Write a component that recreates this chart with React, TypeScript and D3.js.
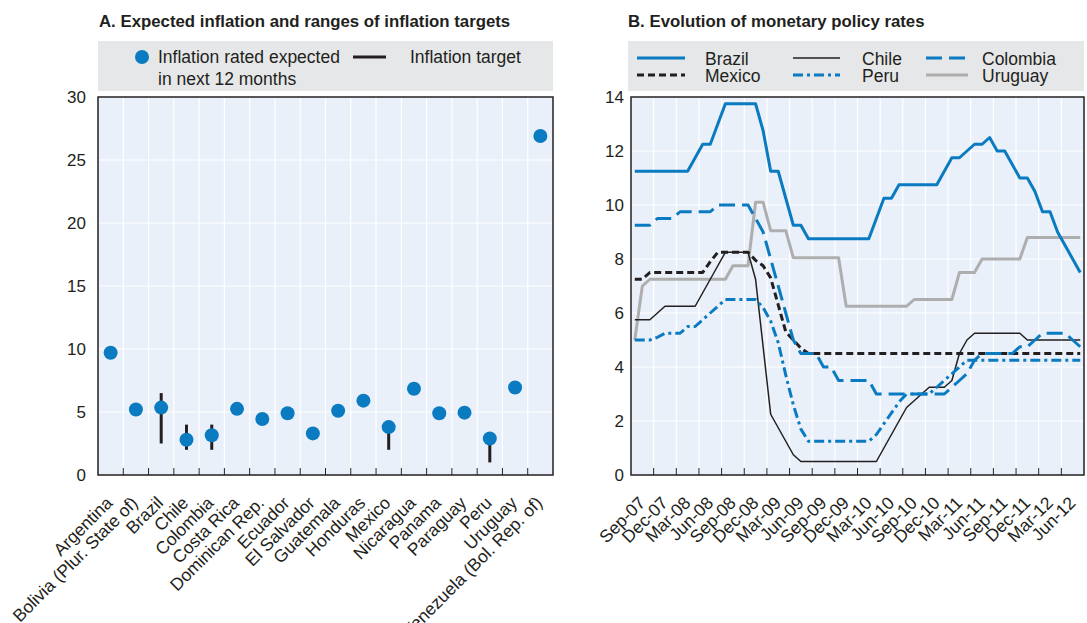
import React from 'react';
import * as d3 from 'd3';

// ---------- Panel A data ----------
const countries = [
  'Argentina', 'Bolivia (Plur. State of)', 'Brazil', 'Chile', 'Colombia', 'Costa Rica',
  'Dominican Rep.', 'Ecuador', 'El Salvador', 'Guatemala', 'Honduras', 'Mexico',
  'Nicaragua', 'Panama', 'Paraguay', 'Peru', 'Uruguay', 'Venezuela (Bol. Rep. of)',
];
const expectedInflation = [9.7, 5.2, 5.35, 2.8, 3.15, 5.25, 4.45, 4.9, 3.3, 5.1, 5.9, 3.8, 6.85, 4.9, 4.95, 2.9, 6.95, 26.9];
const targetLow = [null, null, 2.5, 2, 2, null, null, null, null, null, null, 2, null, null, null, 1, null, null];
const targetHigh = [null, null, 6.5, 4, 4, null, null, null, null, null, null, 4, null, null, null, 3, null, null];
const yTicksA = [0, 5, 10, 15, 20, 25, 30];

// ---------- Panel B data (monthly, Sep-07 .. Aug-12) ----------
const quarterLabels = [
  'Sep-07', 'Dec-07', 'Mar-08', 'Jun-08', 'Sep-08', 'Dec-08', 'Mar-09', 'Jun-09', 'Sep-09', 'Dec-09',
  'Mar-10', 'Jun-10', 'Sep-10', 'Dec-10', 'Mar-11', 'Jun-11', 'Sep-11', 'Dec-11', 'Mar-12', 'Jun-12',
];
const brazil = [
  11.25, 11.25, 11.25, 11.25, 11.25, 11.25, 11.25, 11.25, 11.75, 12.25, 12.25, 13.0,
  13.75, 13.75, 13.75, 13.75, 13.75, 12.75, 11.25, 11.25, 10.25, 9.25, 9.25, 8.75,
  8.75, 8.75, 8.75, 8.75, 8.75, 8.75, 8.75, 8.75, 9.5, 10.25, 10.25, 10.75,
  10.75, 10.75, 10.75, 10.75, 10.75, 11.25, 11.75, 11.75, 12.0, 12.25, 12.25, 12.5,
  12.0, 12.0, 11.5, 11.0, 11.0, 10.5, 9.75, 9.75, 9.0, 8.5, 8.0, 7.5,
];
const chile = [
  5.75, 5.75, 5.75, 6.0, 6.25, 6.25, 6.25, 6.25, 6.25, 6.75, 7.25, 7.75,
  8.25, 8.25, 8.25, 8.25, 7.25, 4.75, 2.25, 1.75, 1.25, 0.75, 0.5, 0.5,
  0.5, 0.5, 0.5, 0.5, 0.5, 0.5, 0.5, 0.5, 0.5, 1.0, 1.5, 2.0,
  2.5, 2.75, 3.0, 3.25, 3.25, 3.25, 3.5, 4.5, 5.0, 5.25, 5.25, 5.25,
  5.25, 5.25, 5.25, 5.25, 5.0, 5.0, 5.0, 5.0, 5.0, 5.0, 5.0, 5.0,
];
const colombia = [
  9.25, 9.25, 9.25, 9.5, 9.5, 9.5, 9.75, 9.75, 9.75, 9.75, 9.75, 10.0,
  10.0, 10.0, 10.0, 10.0, 9.5, 9.0, 8.0, 7.0, 6.0, 5.0, 4.5, 4.5,
  4.5, 4.0, 4.0, 3.5, 3.5, 3.5, 3.5, 3.5, 3.0, 3.0, 3.0, 3.0,
  3.0, 3.0, 3.0, 3.0, 3.0, 3.0, 3.25, 3.5, 3.75, 4.25, 4.5, 4.5,
  4.5, 4.5, 4.5, 4.75, 4.75, 5.0, 5.25, 5.25, 5.25, 5.25, 5.0, 4.75,
];
const mexico = [
  7.25, 7.25, 7.5, 7.5, 7.5, 7.5, 7.5, 7.5, 7.5, 7.5, 7.9, 8.25,
  8.25, 8.25, 8.25, 8.25, 7.95, 7.75, 7.3, 6.3, 5.3, 5.0, 4.7, 4.5,
  4.5, 4.5, 4.5, 4.5, 4.5, 4.5, 4.5, 4.5, 4.5, 4.5, 4.5, 4.5,
  4.5, 4.5, 4.5, 4.5, 4.5, 4.5, 4.5, 4.5, 4.5, 4.5, 4.5, 4.5,
  4.5, 4.5, 4.5, 4.5, 4.5, 4.5, 4.5, 4.5, 4.5, 4.5, 4.5, 4.5,
];
const peru = [
  5.0, 5.0, 5.0, 5.1, 5.25, 5.25, 5.25, 5.5, 5.5, 5.75, 6.0, 6.25,
  6.5, 6.5, 6.5, 6.5, 6.5, 6.2, 5.7, 4.9, 3.7, 2.6, 1.7, 1.25,
  1.25, 1.25, 1.25, 1.25, 1.25, 1.25, 1.25, 1.25, 1.5, 1.9, 2.3, 2.7,
  3.0, 3.0, 3.0, 3.0, 3.25, 3.5, 3.75, 4.0, 4.25, 4.25, 4.25, 4.25,
  4.25, 4.25, 4.25, 4.25, 4.25, 4.25, 4.25, 4.25, 4.25, 4.25, 4.25, 4.25,
];
const uruguay = [
  5.0, 7.0, 7.25, 7.25, 7.25, 7.25, 7.25, 7.25, 7.25, 7.25, 7.25, 7.25,
  7.25, 7.75, 7.75, 7.75, 10.1, 10.1, 9.05, 9.05, 9.05, 8.05, 8.05, 8.05,
  8.05, 8.05, 8.05, 8.05, 6.25, 6.25, 6.25, 6.25, 6.25, 6.25, 6.25, 6.25,
  6.25, 6.5, 6.5, 6.5, 6.5, 6.5, 6.5, 7.5, 7.5, 7.5, 8.0, 8.0,
  8.0, 8.0, 8.0, 8.0, 8.8, 8.8, 8.8, 8.8, 8.8, 8.8, 8.8, 8.8,
];
const yTicksB = [0, 2, 4, 6, 8, 10, 12, 14];

// ---------- styles ----------
const BLUE = '#0b7bc1';
const GREY = '#aeaeae';
const DARK = '#231f20';
const PLOT_BG = '#e9f0f9';
const LEGEND_BG = '#e6e7e8';
const FONT = "'Liberation Sans', Arial, sans-serif";

const seriesB = [
  { name: 'Uruguay', data: uruguay, color: GREY, width: 3, dash: null },
  { name: 'Chile', data: chile, color: DARK, width: 1.5, dash: null },
  { name: 'Mexico', data: mexico, color: DARK, width: 3, dash: '7,4' },
  { name: 'Peru', data: peru, color: BLUE, width: 3, dash: '10,4,3,4' },
  { name: 'Colombia', data: colombia, color: BLUE, width: 3, dash: '16,7' },
  { name: 'Brazil', data: brazil, color: BLUE, width: 3, dash: null },
];
const legendOrderB = ['Brazil', 'Chile', 'Colombia', 'Mexico', 'Peru', 'Uruguay'];

export default function App() {
  const W = 1087;
  const H = 623;

  // Panel A
  const A = { x0: 98, x1: 553, y0: 97, y1: 475 };
  const xA = d3.scaleBand().domain(countries).range([A.x0, A.x1]);
  const yA = d3.scaleLinear().domain([0, 30]).range([A.y1, A.y0]);
  const bw = xA.bandwidth();

  // Panel B
  const B = { x0: 631, x1: 1084, y0: 97, y1: 475 };
  const nMonths = brazil.length;
  const xB = d3.scaleLinear().domain([0, nMonths]).range([B.x0, B.x1]);
  const yB = d3.scaleLinear().domain([0, 14]).range([B.y1, B.y0]);
  const lineGen = d3.line<number>().x((_, i) => xB(i + 0.5)).y((d) => yB(d));
  const quarterBounds = d3.range(0, nMonths + 1, 3);

  const regular = { fontFamily: FONT, fontSize: 17.5, fill: DARK };
  const tickStyle = { fontFamily: FONT, fontSize: 17, fill: DARK };
  const catStyle = { fontFamily: FONT, fontSize: 17.5, fill: DARK };
  const titleStyle = { fontFamily: FONT, fontSize: 16.8, fontWeight: 700, fill: DARK };

  return (
    <svg width={W} height={H} style={{ position: 'absolute', left: 0, top: 0, background: '#fff' }}>
      {/* ===== Panel A ===== */}
      <text x={99} y={27} style={titleStyle}>A. Expected inflation and ranges of inflation targets</text>
      <rect x={98} y={41} width={A.x1 - 98} height={50} fill={LEGEND_BG} />
      <circle cx={142} cy={57} r={7} fill={BLUE} />
      <text x={158} y={63} style={regular}>Inflation rated expected</text>
      <text x={158} y={84.5} style={regular}>in next 12 months</text>
      <line x1={353} x2={386} y1={57} y2={57} stroke={DARK} strokeWidth={3} />
      <text x={410} y={63} style={regular}>Inflation target</text>

      <rect x={A.x0} y={A.y0} width={A.x1 - A.x0} height={A.y1 - A.y0} fill={PLOT_BG} />
      {yTicksA.slice(1, -1).map((t) => (
        <line key={'ga' + t} x1={A.x0} x2={A.x1} y1={yA(t)} y2={yA(t)} stroke="#fff" strokeWidth={1.2} />
      ))}
      {countries.slice(1).map((c) => (
        <line key={'va' + c} x1={xA(c)!} x2={xA(c)!} y1={A.y0} y2={A.y1} stroke="#fff" strokeWidth={1.2} />
      ))}
      {countries.slice(1).map((c) => (
        <line key={'ta' + c} x1={xA(c)!} x2={xA(c)!} y1={A.y1} y2={A.y1 - 7} stroke={DARK} strokeWidth={1} />
      ))}
      {countries.map((c, i) =>
        targetLow[i] != null ? (
          <line key={'tg' + c} x1={xA(c)! + bw / 2} x2={xA(c)! + bw / 2}
            y1={yA(targetLow[i] as number)} y2={yA(targetHigh[i] as number)}
            stroke={DARK} strokeWidth={3} />
        ) : null
      )}
      {countries.map((c, i) => (
        <circle key={'d' + c} cx={xA(c)! + bw / 2} cy={yA(expectedInflation[i])} r={7} fill={BLUE} />
      ))}
      <rect x={A.x0} y={A.y0} width={A.x1 - A.x0} height={A.y1 - A.y0} fill="none" stroke={DARK} strokeWidth={1.5} />
      {yTicksA.map((t) => (
        <text key={'ya' + t} x={A.x0 - 12} y={yA(t)} dy="0.35em" textAnchor="end" style={tickStyle}>{t}</text>
      ))}
      {countries.map((c) => (
        <text key={'xa' + c} transform={`translate(${xA(c)! + bw / 2 + 3},${A.y1 + 29}) rotate(-45)`}
          textAnchor="end" style={catStyle}>{c}</text>
      ))}

      {/* ===== Panel B ===== */}
      <text x={628} y={27} style={titleStyle}>B. Evolution of monetary policy rates</text>
      <rect x={628} y={41} width={B.x1 - 628} height={50} fill={LEGEND_BG} />
      {legendOrderB.map((name, k) => {
        const s = seriesB.find((d) => d.name === name)!;
        const col = k % 3;
        const row = Math.floor(k / 3);
        const lx = [637, 793, 926][col];
        const lw = [48, 47, 42][col];
        const tx = [705, 862, 982][col];
        const ly = 58 + row * 17;
        return (
          <g key={'lg' + name}>
            <line x1={lx} x2={lx + lw} y1={ly} y2={ly} stroke={s.color} strokeWidth={s.width}
              strokeDasharray={s.dash || undefined} />
            <text x={tx} y={ly + 7} style={regular}>{name}</text>
          </g>
        );
      })}

      <rect x={B.x0} y={B.y0} width={B.x1 - B.x0} height={B.y1 - B.y0} fill={PLOT_BG} />
      {yTicksB.slice(1, -1).map((t) => (
        <line key={'gb' + t} x1={B.x0} x2={B.x1} y1={yB(t)} y2={yB(t)} stroke="#fff" strokeWidth={1.2} />
      ))}
      {quarterBounds.slice(1, -1).map((m) => (
        <line key={'vb' + m} x1={xB(m)} x2={xB(m)} y1={B.y0} y2={B.y1} stroke="#fff" strokeWidth={1.2} />
      ))}
      {quarterBounds.slice(1, -1).map((m) => (
        <line key={'tb' + m} x1={xB(m)} x2={xB(m)} y1={B.y1} y2={B.y1 - 7} stroke={DARK} strokeWidth={1} />
      ))}
      {seriesB.map((s) => (
        <path key={'s' + s.name} d={lineGen(s.data) || ''} fill="none" stroke={s.color}
          strokeWidth={s.width} strokeDasharray={s.dash || undefined} strokeLinejoin="round" />
      ))}
      <rect x={B.x0} y={B.y0} width={B.x1 - B.x0} height={B.y1 - B.y0} fill="none" stroke={DARK} strokeWidth={1.5} />
      {yTicksB.map((t) => (
        <text key={'yb' + t} x={B.x0 - 7} y={yB(t)} dy="0.35em" textAnchor="end" style={tickStyle}>{t}</text>
      ))}
      {quarterLabels.map((q, k) => (
        <text key={'xb' + q} transform={`translate(${xB(k * 3 + 1.5) + 4},${B.y1 + 29}) rotate(-45)`}
          textAnchor="end" style={catStyle}>{q}</text>
      ))}
    </svg>
  );
}
